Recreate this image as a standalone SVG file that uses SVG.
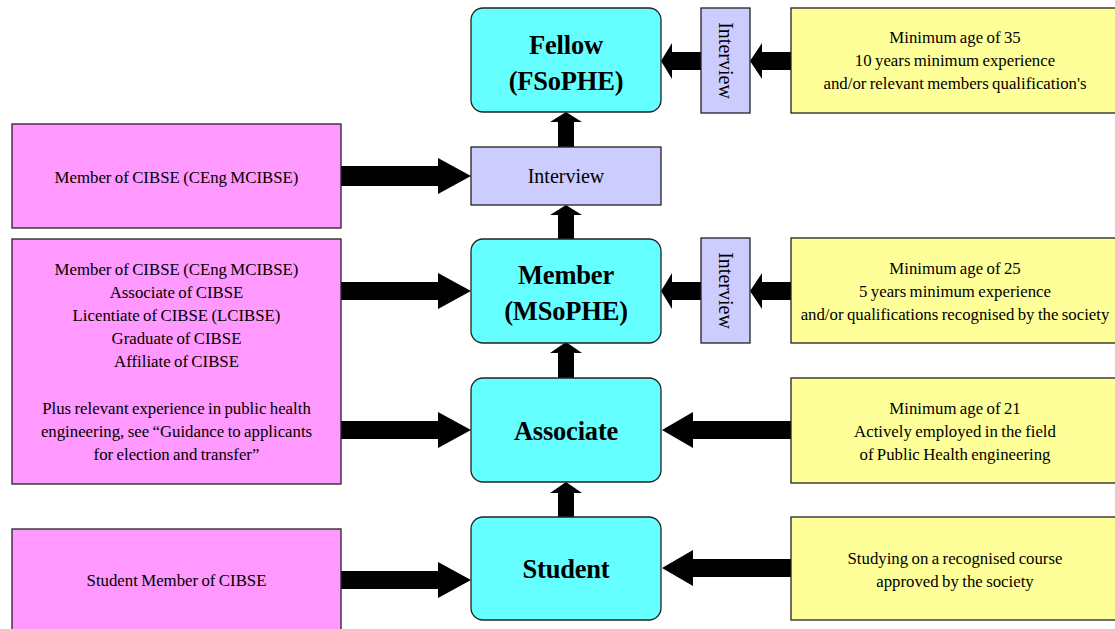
<svg xmlns="http://www.w3.org/2000/svg" width="1115" height="629" viewBox="0 0 1115 629">
<style>
.lvl{fill:#66FFFF;stroke:#222;stroke-width:1.3}
.pink{fill:#FF99FF;stroke:#222;stroke-width:1.3}
.yel{fill:#FFFF99;stroke:#222;stroke-width:1.3}
.intv{fill:#CCCCFF;stroke:#222;stroke-width:1.3}
.big{font-family:"Liberation Serif","Times New Roman",serif;font-weight:bold;font-size:26.5px;fill:#000;text-anchor:middle;letter-spacing:-0.2px}
.txt{font-family:"Liberation Serif","Times New Roman",serif;font-size:16.8px;fill:#000;text-anchor:middle;word-spacing:-0.8px}
.itx{font-family:"Liberation Serif","Times New Roman",serif;font-size:20px;fill:#000;text-anchor:middle}
.arr{fill:#000}
</style>
<rect width="1115" height="629" fill="#fff"/>

<g id="connectors">
  <polygon class="arr" points="558,147 558,122 550,122 566,112 582,122 574,122 574,147"/>
  <polygon class="arr" points="558,239 558,215 550,215 566,205 582,215 574,215 574,239"/>
  <polygon class="arr" points="558,378 558,353 550,353 566,342 582,353 574,353 574,378"/>
  <polygon class="arr" points="558,517 558,493 550,493 566,482 582,493 574,493 574,517"/>
  <polygon class="arr" points="341,166 438,166 438,158 471,176 438,194 438,186 341,186"/>
  <polygon class="arr" points="341,282 438,282 438,273 471,291 438,309 438,300 341,300"/>
  <polygon class="arr" points="341,421 438,421 438,412 471,430 438,448 438,439 341,439"/>
  <polygon class="arr" points="341,571 438,571 438,562 471,580 438,598 438,589 341,589"/>
  <polygon class="arr" points="791,52 762,52 762,43 750,61 762,79 762,70 791,70"/>
  <polygon class="arr" points="701,52 672,52 672,43 661,61 672,79 672,70 701,70"/>
  <polygon class="arr" points="791,282 762,282 762,273 750,291 762,309 762,300 791,300"/>
  <polygon class="arr" points="701,282 672,282 672,273 661,291 672,309 672,300 701,300"/>
  <polygon class="arr" points="791,421 693,421 693,412 662,430 693,448 693,439 791,439"/>
  <polygon class="arr" points="791,559 693,559 693,550 662,568 693,586 693,577 791,577"/>
</g>

<g id="fellow">
  <rect class="lvl" x="471" y="8" width="190" height="104" rx="12"/>
  <text class="big" x="566" y="54">Fellow</text>
  <text class="big" x="566" y="90">(FSoPHE)</text>
</g>
<g id="interview-main">
  <rect class="intv" x="471" y="147" width="190" height="58"/>
  <text class="itx" x="566" y="183">Interview</text>
</g>
<g id="member">
  <rect class="lvl" x="471" y="239" width="190" height="104" rx="12"/>
  <text class="big" x="566" y="284">Member</text>
  <text class="big" x="566" y="320">(MSoPHE)</text>
</g>
<g id="associate">
  <rect class="lvl" x="471" y="378" width="190" height="104" rx="12"/>
  <text class="big" x="566" y="440">Associate</text>
</g>
<g id="student">
  <rect class="lvl" x="471" y="517" width="190" height="103" rx="12"/>
  <text class="big" x="566" y="578">Student</text>
</g>

<g id="interview-fellow">
  <rect class="intv" x="701" y="8" width="49" height="105"/>
  <text class="itx" transform="translate(725.5,60.5) rotate(90)" x="0" y="7">Interview</text>
</g>
<g id="interview-member">
  <rect class="intv" x="701" y="238" width="49" height="105"/>
  <text class="itx" transform="translate(725.5,290.5) rotate(90)" x="0" y="7">Interview</text>
</g>

<g id="req-fellow">
  <rect class="yel" x="791" y="8" width="330" height="105"/>
  <text class="txt" x="955" y="43">Minimum age of 35</text>
  <text class="txt" x="955" y="66">10 years minimum experience</text>
  <text class="txt" x="955" y="89">and/or relevant members qualification's</text>
</g>
<g id="req-member">
  <rect class="yel" x="791" y="238" width="330" height="105"/>
  <text class="txt" x="955" y="274">Minimum age of 25</text>
  <text class="txt" x="955" y="297">5 years minimum experience</text>
  <text class="txt" x="955" y="320">and/or qualifications recognised by the society</text>
</g>
<g id="req-associate">
  <rect class="yel" x="791" y="378" width="330" height="105"/>
  <text class="txt" x="955" y="414">Minimum age of 21</text>
  <text class="txt" x="955" y="437">Actively employed in the field</text>
  <text class="txt" x="955" y="460">of Public Health engineering</text>
</g>
<g id="req-student">
  <rect class="yel" x="791" y="517" width="330" height="103"/>
  <text class="txt" x="955" y="564">Studying on a recognised course</text>
  <text class="txt" x="955" y="587">approved by the society</text>
</g>

<g id="cibse-fellow">
  <rect class="pink" x="12" y="124" width="329" height="104"/>
  <text class="txt" x="176.5" y="183">Member of CIBSE (CEng MCIBSE)</text>
</g>
<g id="cibse-member">
  <rect class="pink" x="12" y="239" width="329" height="245"/>
  <text class="txt" x="176.5" y="275">Member of CIBSE (CEng MCIBSE)</text>
  <text class="txt" x="176.5" y="298">Associate of CIBSE</text>
  <text class="txt" x="176.5" y="321">Licentiate of CIBSE (LCIBSE)</text>
  <text class="txt" x="176.5" y="344">Graduate of CIBSE</text>
  <text class="txt" x="176.5" y="367">Affiliate of CIBSE</text>
  <text class="txt" x="176.5" y="414">Plus relevant experience in public health</text>
  <text class="txt" x="176.5" y="437">engineering, see “Guidance to applicants</text>
  <text class="txt" x="176.5" y="460">for election and transfer”</text>
</g>
<g id="cibse-student">
  <rect class="pink" x="12" y="529" width="329" height="110"/>
  <text class="txt" x="176.5" y="586">Student Member of CIBSE</text>
</g>
</svg>
